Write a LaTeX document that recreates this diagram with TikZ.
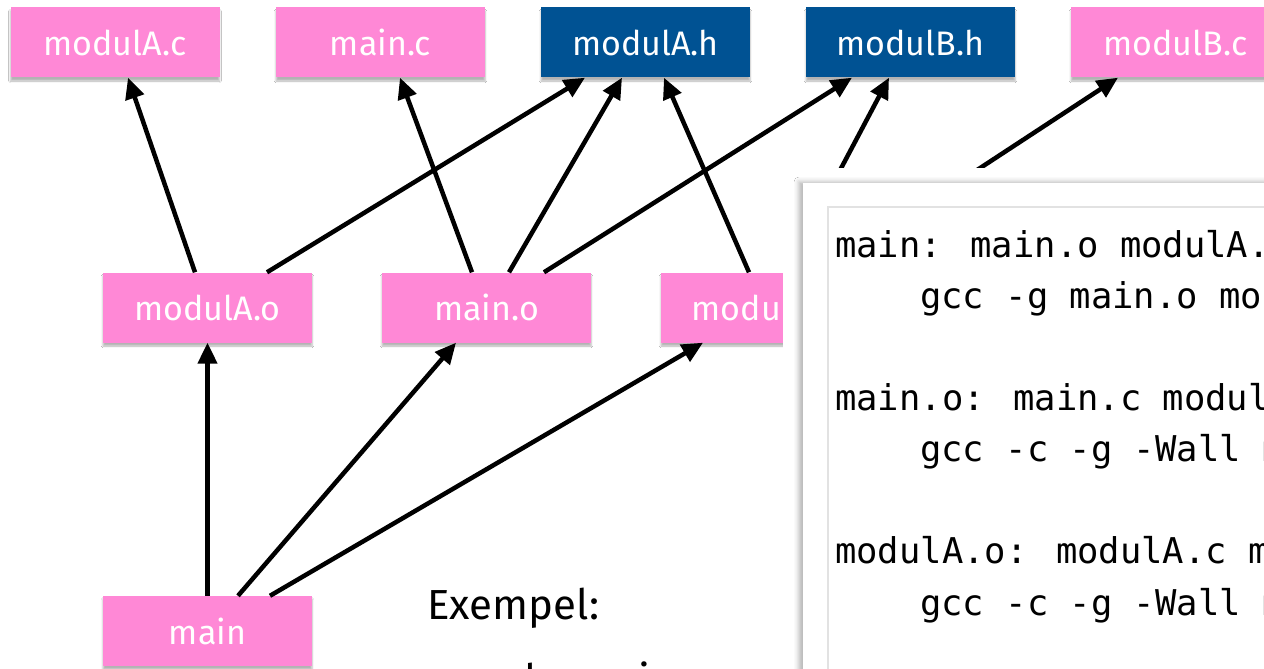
\documentclass[tikz,border=0pt]{standalone}
\usepackage{fontspec}
\setmainfont{Fira Sans}
\newfontfamily\codefont{DejaVu Sans Mono}
\usetikzlibrary{arrows.meta,shadows.blur}
\definecolor{filepink}{HTML}{FF88D6}
\definecolor{fileblue}{HTML}{005293}
\definecolor{codeframe}{HTML}{E2E2E2}
\begin{document}
\begin{tikzpicture}[x=1pt,y=-1pt,
  filebox/.style={minimum width=209pt, minimum height=70pt, inner sep=0pt,
    text=white, font=\fontsize{34}{38}\selectfont,
    blur shadow={shadow xshift=0pt, shadow yshift=-3.5pt,
      shadow blur radius=1.8pt, shadow opacity=30}},
  src/.style={filebox, fill=filepink},
  hdr/.style={filebox, fill=fileblue},
  dep/.style={line width=4.5pt, -{Triangle[length=21pt,width=19pt]}},
  codeline/.style={anchor=base west, inner sep=0pt,
    font=\codefont\fontsize{35.5}{40}\selectfont},
  plain/.style={anchor=base west, inner sep=0pt,
    font=\fontsize{42}{50}\selectfont}
]
\useasboundingbox (0,0) rectangle (1264,669);
\fill[white] (0,0) rectangle (1264,669);

% source and header files
\node[src] (mAc) at (115,42.5)    {modulA.c};
\node[src] (mc)  at (380.5,42.5)  {main.c};
\node[hdr] (mAh) at (645.5,42.5)  {modulA.h};
\node[hdr] (mBh) at (910.5,42.5)  {modulB.h};
\node[src] (mBc) at (1175.5,42.5) {modulB.c};

% object files
\node[src] (mAo) at (207.5,307.5) {modulA.o};
\node[src] (mo)  at (486.5,307.5) {main.o};
\node[src] (mBo) at (765.5,307.5) {modulB.o};

% executable
\node[src] (main) at (207.5,631) {main};

% dependencies
\draw[dep] ([xshift=-12.5pt]mAo.north) -- ([xshift=13pt]mAc.south);
\draw[dep] ([xshift=59.5pt]mAo.north)  -- ([xshift=-60.5pt]mAh.south);
\draw[dep] ([xshift=-14.5pt]mo.north)  -- ([xshift=19.5pt]mc.south);
\draw[dep] ([xshift=22.5pt]mo.north)   -- ([xshift=-23.5pt]mAh.south);
\draw[dep] ([xshift=57.5pt]mo.north)   -- ([xshift=-58.5pt]mBh.south);
\draw[dep] ([xshift=-16.5pt]mBo.north) -- ([xshift=18.5pt]mAh.south);
\draw[dep] ([xshift=20.5pt]mBo.north)  -- ([xshift=-21.5pt]mBh.south);
\draw[dep] ([xshift=55.5pt]mBo.north)  -- ([xshift=-57.5pt]mBc.south);
\draw[dep] (main.north) -- (mAo.south);
\draw[dep] ([xshift=30.5pt]main.north) -- ([xshift=-30.5pt]mo.south);
\draw[dep] ([xshift=62.5pt]main.north) -- ([xshift=-62.5pt]mBo.south);

% example caption
\node[plain] (ex)  at (427,619) {Exempel:};
\node[plain] (cmd) at (465,694) {make main};

% makefile panel
\fill[white] (783,168) rectangle (1264,669);
\fill[white, blur shadow={shadow xshift=-4pt, shadow yshift=1pt,
    shadow blur radius=5pt, shadow opacity=30}]
  (803,183) rectangle (1300,700);
\draw[codeframe, line width=1.5pt, fill=white] (828,207) rectangle (1300,700);

\node[codeline] (c0) at (835,257) {main: main.o modulA.};
\node[codeline] (c1) at (920,308) {gcc -g main.o mo};
\node[codeline] (c2) at (835,410) {main.o: main.c modulA};
\node[codeline] (c3) at (920,461) {gcc -c -g -Wall m};
\node[codeline] (c4) at (835,563) {modulA.o: modulA.c m};
\node[codeline] (c5) at (920,615) {gcc -c -g -Wall m};
\end{tikzpicture}
\end{document}
